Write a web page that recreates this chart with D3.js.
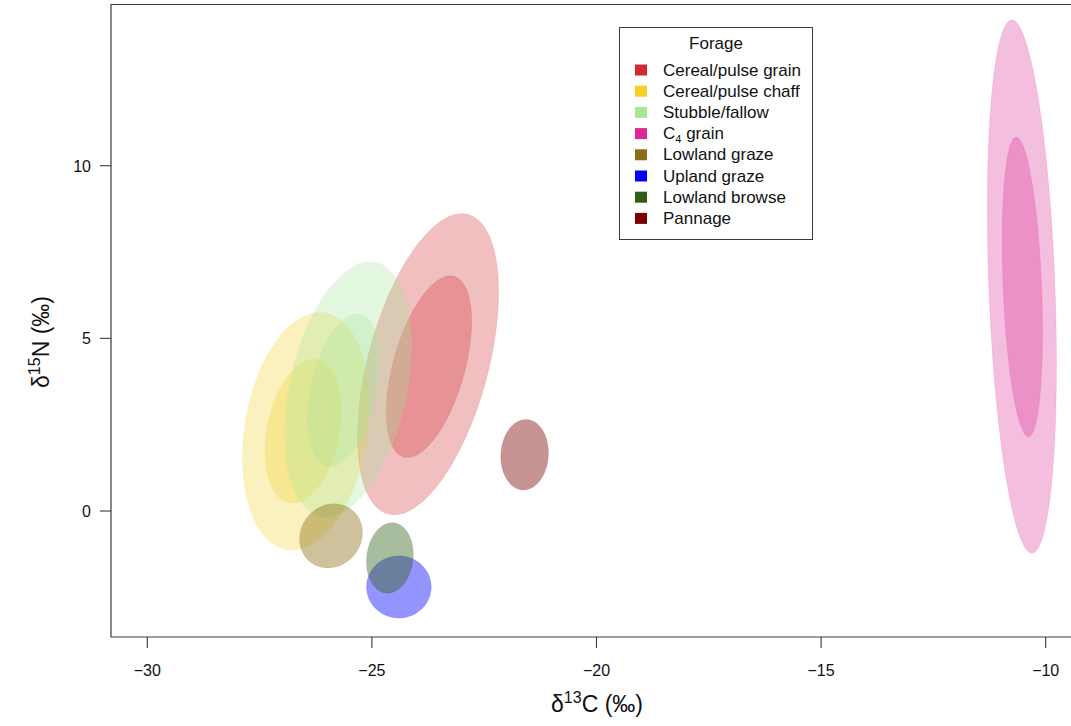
<!DOCTYPE html>
<html>
<head>
<meta charset="utf-8">
<script src="https://cdn.jsdelivr.net/npm/d3@7"></script>
<style>
  html, body { margin: 0; padding: 0; background: #fff; }
  svg { display: block; font-family: "Liberation Sans", Arial, Helvetica, sans-serif; }
</style>
</head>
<body>
<svg id="chart" width="1071" height="726"></svg>
<script>
// ---------- data ----------
const categories = ["Cereal/pulse grain", "Cereal/pulse chaff", "Stubble/fallow", "C4 grain",
                    "Lowland graze", "Upland graze", "Lowland browse", "Pannage"];
const colors = ["#d02a2e", "#f3d12a", "#a6e697", "#dc2896", "#8a6d14", "#0000ff", "#2f5f17", "#7a0000"];
const xTicks = [-30, -25, -20, -15, -10];
const yTicks = [0, 5, 10];

// ellipse list (outer = wide region, inner = core region); values in per-mil units
const ellGroup = [0, 0, 1, 1, 2, 2, 3, 3, 4, 5, 6, 7];
const ellLevel = ["outer", "inner", "outer", "inner", "outer", "inner", "outer", "inner",
                  "single", "single", "single", "single"];
const ellCx  = [-23.75, -23.73, -26.47, -26.53, -25.53, -25.63, -10.53, -10.52, -25.91, -24.40, -24.60, -21.60];
const ellCy  = [4.25, 4.18, 2.31, 2.31, 3.52, 3.49, 6.50, 6.49, -0.72, -2.20, -1.36, 1.63];
const ellSx  = [1.57, 0.95, 1.41, 0.85, 1.41, 0.80, 0.77, 0.45, 0.70, 0.72, 0.52, 0.53];
const ellSy  = [4.36, 2.63, 3.44, 2.08, 3.69, 2.21, 7.72, 4.34, 0.93, 0.90, 1.02, 1.02];
const ellRho = [0.48, 0.50, 0.22, 0.28, 0.35, 0.38, -0.29, -0.30, 0.10, 0.0, 0.10, 0.05];

// ---------- layout ----------
const svg = d3.select("#chart");
const box = { left: 111, top: 4.5, right: 1110, bottom: 637 };

const x = d3.scaleLinear().domain([-30, -10]).range([147.3, 1045.7]);
const y = d3.scaleLinear().domain([0, 10]).range([511, 165.7]);

svg.append("defs").append("clipPath").attr("id", "plotclip")
  .append("rect").attr("x", box.left).attr("y", box.top)
  .attr("width", box.right - box.left).attr("height", box.bottom - box.top);

const plot = svg.append("g").attr("clip-path", "url(#plotclip)");

function ellipsePath(i) {
  const n = 120, pts = [];
  const s = Math.sqrt(1 - ellRho[i] * ellRho[i]);
  for (let k = 0; k <= n; k++) {
    const t = 2 * Math.PI * k / n;
    const dx = ellCx[i] + ellSx[i] * Math.cos(t);
    const dy = ellCy[i] + ellSy[i] * (ellRho[i] * Math.cos(t) + s * Math.sin(t));
    pts.push([x(dx), y(dy)]);
  }
  return d3.line()(pts) + "Z";
}

const alphaFor = { outer: 0.3, inner: 0.3, single: 0.42 };
d3.range(ellGroup.length).forEach(i => {
  const c = colors[ellGroup[i]];
  plot.append("path")
    .attr("d", ellipsePath(i))
    .attr("fill", c)
    .attr("fill-opacity", alphaFor[ellLevel[i]])
    .attr("stroke", c)
    .attr("stroke-opacity", 0.15)
    .attr("stroke-width", 0.8);
});

// box
svg.append("path")
  .attr("d", `M${box.right},${box.top}H${box.left}V${box.bottom}H${box.right}`)
  .attr("fill", "none").attr("stroke", "#3a3a3a").attr("stroke-width", 1.2);

// x axis ticks
const xg = svg.append("g");
xTicks.forEach(v => {
  xg.append("line").attr("x1", x(v)).attr("x2", x(v))
    .attr("y1", box.bottom).attr("y2", box.bottom + 11)
    .attr("stroke", "#3a3a3a").attr("stroke-width", 1.1);
  xg.append("text").attr("x", x(v)).attr("y", 676)
    .attr("text-anchor", "middle").attr("font-size", 16).attr("fill", "#111")
    .text(d3.format("")(v).replace("-", "\u2212"));
});

// y axis ticks
const yg = svg.append("g");
yTicks.forEach(v => {
  yg.append("line").attr("x1", box.left - 11).attr("x2", box.left)
    .attr("y1", y(v)).attr("y2", y(v))
    .attr("stroke", "#3a3a3a").attr("stroke-width", 1.1);
  yg.append("text").attr("x", 91).attr("y", y(v) + 6)
    .attr("text-anchor", "end").attr("font-size", 16).attr("fill", "#111")
    .text(v);
});

// axis titles
const xt = svg.append("text").attr("x", 597).attr("y", 712)
  .attr("text-anchor", "middle").attr("font-size", 23).attr("fill", "#111");
xt.append("tspan").text("\u03b4");
xt.append("tspan").attr("dy", -9).attr("font-size", 16).text("13");
xt.append("tspan").attr("dy", 9).text("C (\u2030)");

const yt = svg.append("text")
  .attr("transform", "translate(49,342) rotate(-90)")
  .attr("text-anchor", "middle").attr("font-size", 23).attr("fill", "#111");
yt.append("tspan").text("\u03b4");
yt.append("tspan").attr("dy", -9).attr("font-size", 16).text("15");
yt.append("tspan").attr("dy", 9).text("N (\u2030)");

// legend
const lg = svg.append("g");
lg.append("rect").attr("x", 619.5).attr("y", 27.5).attr("width", 193).attr("height", 212)
  .attr("fill", "#fff").attr("stroke", "#3a3a3a").attr("stroke-width", 1);
lg.append("text").attr("x", 716).attr("y", 49).attr("text-anchor", "middle")
  .attr("font-size", 17).attr("fill", "#111").text("Forage");
categories.forEach((name, i) => {
  const cy = 70 + i * 21.2;
  lg.append("rect").attr("x", 635).attr("y", cy - 5.5).attr("width", 12).attr("height", 11)
    .attr("fill", colors[i]);
  const t = lg.append("text").attr("x", 663).attr("y", cy + 5.5)
    .attr("font-size", 17).attr("fill", "#111");
  if (name === "C4 grain") {
    t.append("tspan").text("C");
    t.append("tspan").attr("dy", 4).attr("font-size", 11).text("4");
    t.append("tspan").attr("dy", -4).text(" grain");
  } else {
    t.text(name);
  }
});
</script>
</body>
</html>
